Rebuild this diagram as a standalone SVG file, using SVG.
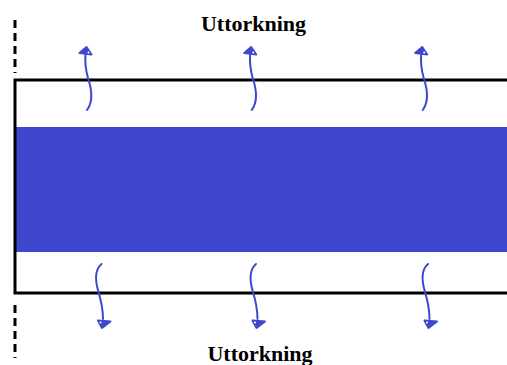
<svg xmlns="http://www.w3.org/2000/svg" width="507" height="365" viewBox="0 0 507 365">
<style>
.lbl{font-family:"Liberation Serif","Times New Roman",serif;font-weight:bold;font-size:22px;fill:#000;text-anchor:middle}
.wall{fill:none;stroke:#000;stroke-width:3}
.dash{fill:none;stroke:#000;stroke-width:3;stroke-dasharray:8 5}
.band{fill:#3F48CC}
.flow{fill:none;stroke:#3F48CC;stroke-width:2;stroke-linecap:round}
.head{fill:#3F48CC;stroke:#3F48CC;stroke-width:2;stroke-linejoin:round}
.eye{fill:#fff}
</style>
<rect width="507" height="365" fill="#fff"/>
<g id="slab">
<rect class="band" x="15" y="127" width="495" height="125"/>
<path class="wall" d="M512,80 H15 V293 H512"/>
</g>
<g id="symmetry-line">
<line class="dash" x1="15" y1="20" x2="15" y2="73"/>
<line class="dash" x1="15" y1="305" x2="15" y2="358"/>
</g>
<g id="label-top"><text class="lbl" x="253.5" y="31">Uttorkning</text></g>
<g id="label-bottom"><text class="lbl" x="260" y="361">Uttorkning</text></g>
<g id="connectors">
<path class="flow" d="M87,110 C93,102 92,90 88,78 C85,68 85,60 85.5,53"/>
<polygon class="head" points="86.5,47 79.5,53 91.5,54.5"/>
<circle class="eye" cx="88.5" cy="52.5" r="1"/>
<path class="flow" d="M251.7,110 C257.7,102 256.7,90 252.7,78 C249.7,68 249.7,60 250.2,53"/>
<polygon class="head" points="251.2,47 244.2,53 256.2,54.5"/>
<circle class="eye" cx="253.2" cy="52.5" r="1"/>
<path class="flow" d="M422.7,110 C428.7,102 427.7,90 423.7,78 C420.7,68 420.7,60 421.2,53"/>
<polygon class="head" points="422.2,47 415.2,53 427.2,54.5"/>
<circle class="eye" cx="424.2" cy="52.5" r="1"/>
<path class="flow" d="M101.5,264 C94.5,270 95.5,282 98.5,292 C101.5,302 103,310 103,319"/>
<polygon class="head" points="98,320.5 110.5,321.5 102,328"/>
<circle class="eye" cx="100.5" cy="322.5" r="1"/>
<path class="flow" d="M256,264 C249,270 250,282 253,292 C256,302 257.5,310 257.5,319"/>
<polygon class="head" points="252.5,320.5 265,321.5 256.5,328"/>
<circle class="eye" cx="255" cy="322.5" r="1"/>
<path class="flow" d="M428,264 C421,270 422,282 425,292 C428,302 429.5,310 429.5,319"/>
<polygon class="head" points="424.5,320.5 437,321.5 428.5,328"/>
<circle class="eye" cx="427" cy="322.5" r="1"/>
</g>
</svg>
